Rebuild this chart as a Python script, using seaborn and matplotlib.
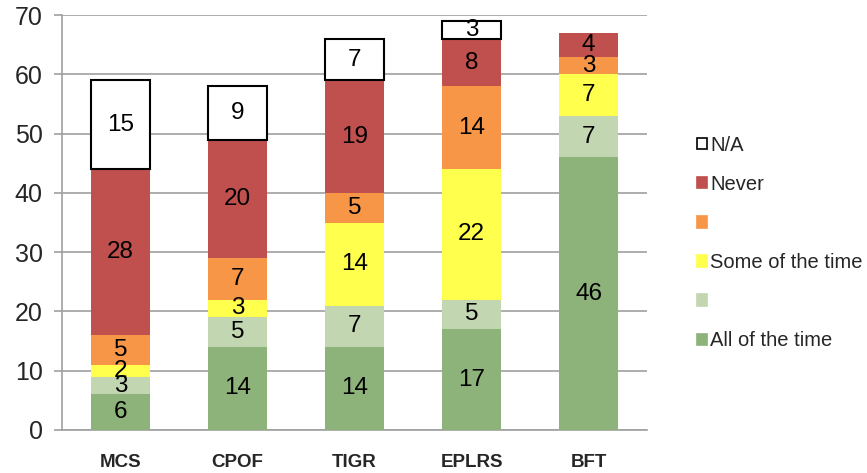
import matplotlib
matplotlib.use("Agg")
import matplotlib.pyplot as plt
from matplotlib.patches import Patch
import seaborn as sns
import pandas as pd
import numpy as np

systems = ["MCS", "CPOF", "TIGR", "EPLRS", "BFT"]
all_time = [6, 14, 14, 17, 46]
mostly = [3, 5, 7, 5, 7]
some_time = [2, 3, 14, 22, 7]
rarely = [5, 7, 5, 14, 3]
never = [28, 20, 19, 8, 4]
na = [15, 9, 7, 3, 0]

series = [
    ("All of the time", all_time, "#8DB37A", "none"),
    ("", mostly, "#C3D6B2", "none"),
    ("Some of the time", some_time, "#FFFF4D", "none"),
    ("", rarely, "#F79646", "none"),
    ("Never", never, "#C0504D", "none"),
    ("N/A", na, "white", "black"),
]

sns.set_style("white")
plt.rcParams["font.family"] = ["Liberation Sans", "DejaVu Sans"]

fig = plt.figure(figsize=(8.67, 4.73), dpi=100)
ax = fig.add_axes([0.0715, 0.091, 0.675, 0.877])

bottom = np.zeros(len(systems))
for name, vals, col, ec in series:
    vals = np.array(vals, dtype=float)
    df = pd.DataFrame({"system": systems, "value": vals})
    sns.barplot(data=df, x="system", y="value", color=col, width=0.5,
                bottom=bottom, edgecolor=ec, linewidth=1.5 if ec != "none" else 0,
                saturation=1, ax=ax, zorder=3)
    for i, v in enumerate(vals):
        if v > 0:
            ax.text(i, bottom[i] + v / 2, f"{int(v)}", ha="center", va="center",
                    fontsize=17.5, color="black", zorder=5)
    bottom = bottom + vals

# hide zero-height N/A bar outline
for p in ax.patches:
    if p.get_height() == 0:
        p.set_visible(False)

ax.set_ylim(0, 70)
ax.set_xlim(-0.5, 4.5)
ax.set_yticks(range(0, 71, 10))
ax.yaxis.grid(True, color="#A0A0A0", linewidth=1.2, zorder=0)
ax.set_axisbelow(True)
ax.set_xlabel("")
ax.set_ylabel("")
for s in ["top", "right"]:
    ax.spines[s].set_visible(False)
for s in ["left", "bottom"]:
    ax.spines[s].set_color("#A0A0A0")
    ax.spines[s].set_linewidth(1.2)

ax.set_xticks(range(5))
ax.set_xticklabels(systems, fontsize=13.5, fontweight="bold")
ax.tick_params(axis="x", length=0, pad=17)
ax.set_xticks(np.arange(-0.5, 5, 1), minor=True)
ax.tick_params(axis="x", which="minor", length=5, color="#A0A0A0", width=1.2, direction="out")
ax.tick_params(axis="y", labelsize=18, length=6, color="#A0A0A0", width=1.2, direction="out", left=True, pad=8)

handles = [Patch(facecolor=col, edgecolor=("black" if ec != "none" else col), linewidth=1.2)
           for name, vals, col, ec in reversed(series)]
labels = [name for name, vals, col, ec in reversed(series)]
fig.legend(handles, labels, loc="upper left", bbox_to_anchor=(0.795, 0.73),
           frameon=False, fontsize=14.5, handlelength=0.5, handleheight=0.5,
           handletextpad=0.15, labelspacing=1.0, borderaxespad=0)

fig.savefig("out.png", dpi=100)
